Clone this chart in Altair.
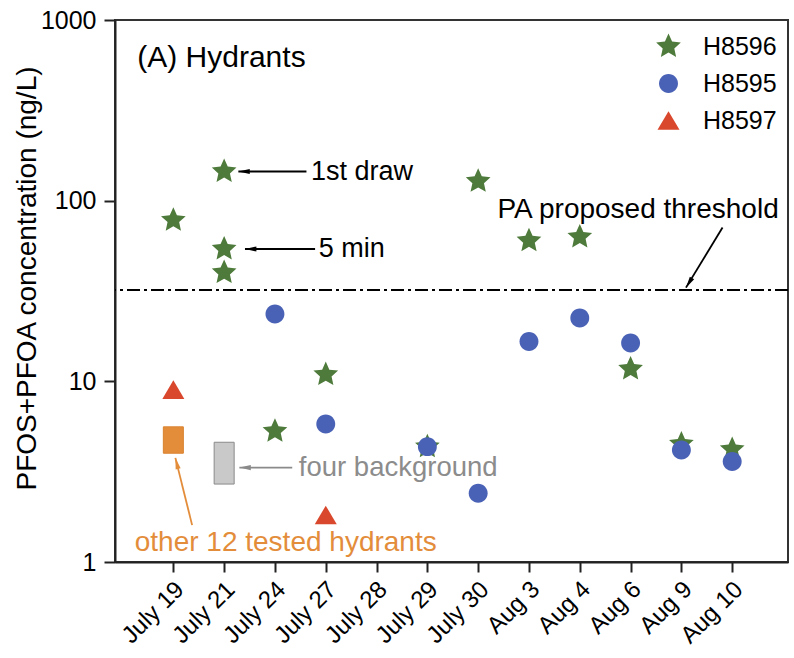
import math
import altair as alt
import pandas as pd

# ---------------- data ----------------
dates = ["July 19", "July 21", "July 24", "July 27", "July 28", "July 29",
         "July 30", "Aug 3", "Aug 4", "Aug 6", "Aug 9", "Aug 10"]

series_names = ["H8596", "H8595", "H8597"]
series_colors = ["#4e7b3b", "#4a62b6", "#d9472d"]

h8596_dates = ["July 19", "July 21", "July 21", "July 21", "July 24", "July 27",
               "July 29", "July 30", "Aug 3", "Aug 4", "Aug 6", "Aug 9", "Aug 10"]
h8596_vals = [78, 145, 54, 40, 5.3, 10.9, 4.35, 128, 60, 63, 11.7, 4.5, 4.2]

h8595_dates = ["July 24", "July 27", "July 29", "July 30", "Aug 3", "Aug 4",
               "Aug 6", "Aug 9", "Aug 10"]
h8595_vals = [23.6, 5.8, 4.35, 2.4, 16.6, 22.4, 16.3, 4.17, 3.6]

h8597_dates = ["July 19", "July 27"]
h8597_vals = [9.0, 1.82]

threshold = 32

# ranges (min, max) of other hydrants and background samples
other_date = "July 19"
other_range = [4.0, 5.6]
bg_date = "July 21"
bg_range = [2.7, 4.6]

y_ticks = [1, 10, 100, 1000]

def pos(d):
    return dates.index(d) + 1

# ---------------- marker shapes (unit paths, scaled by sqrt(size)/2) ----------------
def star_path(R=1.18, ratio=0.47):
    pts = []
    for k in range(10):
        a = math.radians(-90 + 36 * k)
        r = R if k % 2 == 0 else R * ratio
        pts.append(f"{r * math.cos(a):.3f},{r * math.sin(a):.3f}")
    return "M" + "L".join(pts) + "Z"

rc = 0.86
circle_path = f"M{-rc},0A{rc},{rc} 0 1,0 {rc},0A{rc},{rc} 0 1,0 {-rc},0Z"
tri_path = "M0,-0.85L1,0.85L-1,0.85Z"
series_shapes = [star_path(), circle_path, tri_path]
MARK_SIZE = 484

FONT = "Liberation Sans"

x_scale = alt.Scale(domain=[-0.05, 13], nice=False, zero=False)
y_scale = alt.Scale(type="log", domain=[1, 1000], nice=False)

label_js = "[" + ",".join("'" + d + "'" for d in dates) + "]"
x_axis = alt.Axis(orient="bottom", values=list(range(1, 13)),
                  labelExpr=label_js + "[datum.value - 1]",
                  title=None, grid=False, labelAngle=315, labelAlign="right",
                  labelBaseline="top", labelOffset=-2, labelPadding=5,
                  labelFontSize=24, tickSize=10, labelColor="black",
                  labelOverlap=False)
y_axis = alt.Axis(orient="left", values=y_ticks, format="d", grid=False,
                  title="PFOS+PFOA concentration (ng/L)", titleFontSize=28,
                  titleFontWeight="normal", titleX=-88, titleY=258,
                  titleAngle=270, titleAlign="center", titleBaseline="middle",
                  labelFontSize=25, tickSize=11, labelPadding=8, labelColor="black")

def X(field="x", main=False):
    return alt.X(field, type="quantitative", scale=x_scale,
                 axis=x_axis if main else None)

def Y(field="value", main=False):
    return alt.Y(field, type="quantitative", scale=y_scale,
                 axis=y_axis if main else None)

# invisible layer that carries both axes
axis_layer = alt.Chart(pd.DataFrame({"x": [1], "value": [10]})).mark_point(
    opacity=0).encode(x=X(main=True), y=Y(main=True))

# threshold line
thr = alt.Chart(pd.DataFrame({"value": [threshold]})).mark_rule(
    color="black", strokeWidth=2, strokeDash=[13, 4, 3, 4]).encode(y=Y())

# range boxes
boxes = pd.DataFrame({
    "x": [pos(other_date), pos(bg_date)],
    "lo": [other_range[0], bg_range[0]],
    "hi": [other_range[1], bg_range[1]],
    "fill": ["#e38d3b", "#c9c9c9"],
    "stroke": ["#d9822f", "#8a8a8a"],
})
box_layer = alt.Chart(boxes).mark_bar(orient="vertical", width=20, strokeWidth=1).encode(
    x=X(), y=Y("lo"), y2="hi",
    fill=alt.Fill("fill:N", scale=None), stroke=alt.Stroke("stroke:N", scale=None))

# annotation arrows (tip -> tail) in data coordinates
arrows = pd.DataFrame({
    "x": [2.28, 2.41, 2.30, 1.04, 11.09],
    "value": [145, 54, 3.33, 3.77, 33],
    "x2": [3.62, 3.79, 3.34, 1.37, 11.81],
    "value2": [145, 54, 3.33, 1.60, 71],
    "angle": [270, 270, 270, 346, 212],
    "stroke": ["black", "black", "#8a8a8a", "#e38d3b", "black"],
    "fill": ["black", "black", "#8a8a8a", "#e38d3b", "black"],
})
arrow_lines = alt.Chart(arrows).mark_rule(strokeWidth=1.8).encode(
    x=X(), y=Y(), x2="x2", y2="value2", stroke=alt.Stroke("stroke:N", scale=None))
arrow_heads = alt.Chart(arrows).mark_point(
    shape="M0,0L0.38,1.7L-0.38,1.7Z", filled=True, opacity=1, size=180,
    strokeWidth=0).encode(
    x=X(), y=Y(), angle=alt.Angle("angle:Q", scale=None),
    fill=alt.Fill("fill:N", scale=None))

# annotation texts
texts = [
    ("(A) Hydrants", 0.29, 614, "black", 30),
    ("1st draw", 3.71, 145, "black", 27),
    ("5 min", 3.86, 54, "black", 27),
    ("PA proposed threshold", 7.38, 89, "black", 28),
    ("four background", 3.47, 3.33, "#8c8c8c", 27.5),
    ("other 12 tested hydrants", 0.24, 1.27, "#e38d3b", 28),
]
text_layers = []
for t, xv, yv, c, fs in texts:
    text_layers.append(
        alt.Chart(pd.DataFrame({"x": [xv], "value": [yv], "t": [t]})).mark_text(
            align="left", baseline="middle", fontSize=fs, color=c, font=FONT).encode(
            x=X(), y=Y(), text="t:N"))

# scatter points (stars first, then circles, then triangles)
rows = []
for name, ds, vs in [("H8596", h8596_dates, h8596_vals),
                     ("H8595", h8595_dates, h8595_vals),
                     ("H8597", h8597_dates, h8597_vals)]:
    for d, v in zip(ds, vs):
        rows.append({"series": name, "x": pos(d), "value": v})
pts = pd.DataFrame(rows)

scatter = alt.Chart(pts).mark_point(filled=True, opacity=1, size=MARK_SIZE,
                                    strokeWidth=0).encode(
    x=X(), y=Y(),
    color=alt.Color("series:N", scale=alt.Scale(domain=series_names, range=series_colors),
                    legend=alt.Legend(title=None)),
    shape=alt.Shape("series:N", scale=alt.Scale(domain=series_names, range=series_shapes),
                    legend=alt.Legend(title=None)),
)

chart = alt.layer(axis_layer, thr, box_layer, arrow_lines, arrow_heads, *text_layers,
                  scatter).resolve_axis(x="independent", y="independent").properties(
    width=673, height=542,
    autosize=alt.AutoSizeParams(type="none"),
    padding={"left": 115, "top": 20, "right": 6, "bottom": 96},
).configure_view(stroke="#333", strokeWidth=2).configure_axis(
    domainColor="#222", domainWidth=2, tickColor="#222", tickWidth=2,
    labelFont=FONT, titleFont=FONT, titleColor="black",
).configure_legend(
    orient="none", legendX=541, legendY=14, labelFontSize=25, labelFont=FONT,
    labelColor="black", rowPadding=11, labelOffset=22, symbolSize=MARK_SIZE,
    symbolStrokeWidth=0, padding=0,
)

chart.save("out.html", embed_options={"renderer": "svg", "actions": False})
